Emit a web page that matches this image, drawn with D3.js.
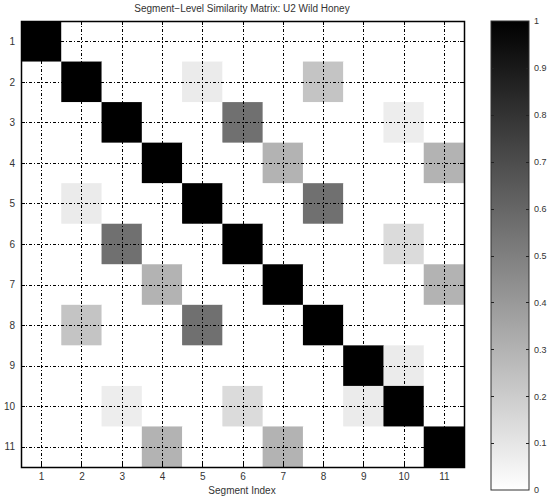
<!DOCTYPE html>
<html>
<head>
<meta charset="utf-8">
<script src="https://cdn.jsdelivr.net/npm/d3@7"></script>
<style>
  body { margin: 0; background: #fff; }
  text { font-family: "Liberation Sans", Arial, sans-serif; fill: #333; }
</style>
</head>
<body>
<div id="chart"></div>
<script>
var segments = [1, 2, 3, 4, 5, 6, 7, 8, 9, 10, 11];
// off-diagonal similarities (row, col, value); matrix is symmetric, diagonal = 1
var pairRows = [2, 2, 3, 3, 4, 4, 5, 6, 7, 9];
var pairCols = [5, 8, 6, 10, 7, 11, 8, 10, 11, 10];
var pairVals = [0.08, 0.23, 0.56, 0.07, 0.3, 0.3, 0.56, 0.14, 0.3, 0.08];
var colorTicks = [0, 0.1, 0.2, 0.3, 0.4, 0.5, 0.6, 0.7, 0.8, 0.9, 1];
var title = "Segment\u2212Level Similarity Matrix: U2 Wild Honey";
var xLabel = "Segment Index";

var width = 553, height = 497;
var plot = {left: 21, top: 21, right: 464, bottom: 467};
var cbar = {left: 491, right: 529, top: 21, bottom: 490};

// build matrix cells from arrays
var cells = [];
segments.forEach(function(r){
  segments.forEach(function(c){
    cells.push({r: r, c: c, v: r === c ? 1 : 0});
  });
});
function setCell(r, c, v){
  cells.forEach(function(d){
    if ((d.r === r && d.c === c) || (d.r === c && d.c === r)) d.v = v;
  });
}
pairRows.forEach(function(r, i){ setCell(r, pairCols[i], pairVals[i]); });

var x = d3.scaleBand().domain(segments).range([plot.left, plot.right]).padding(0);
var y = d3.scaleBand().domain(segments).range([plot.top, plot.bottom]).padding(0);
var color = d3.scaleLinear().domain([0, 1]).range(["#ffffff", "#000000"]);
var cy = d3.scaleLinear().domain([0, 1]).range([cbar.bottom, cbar.top]);

var svg = d3.select("#chart").append("svg")
  .attr("width", width)
  .attr("height", height);

svg.append("text")
  .attr("x", 242).attr("y", 12)
  .attr("text-anchor", "middle")
  .attr("font-size", 10)
  .text(title);

// cells
svg.append("g").selectAll("rect")
  .data(cells)
  .enter()
  .append("rect")
  .attr("x", function(d){ return x(d.c); })
  .attr("y", function(d){ return y(d.r); })
  .attr("width", x.bandwidth() + 0.5)
  .attr("height", y.bandwidth() + 0.5)
  .attr("fill", function(d){ return color(d.v); });

// grid
var grid = svg.append("g").attr("stroke", "#000").attr("stroke-width", 1)
  .attr("stroke-dasharray", "3,2,1,2");
grid.selectAll(".vg").data(segments).enter().append("line")
  .attr("x1", function(d){ return Math.round(x(d) + x.bandwidth() / 2) + 0.5; })
  .attr("x2", function(d){ return Math.round(x(d) + x.bandwidth() / 2) + 0.5; })
  .attr("y1", plot.top).attr("y2", plot.bottom);
grid.selectAll(".hg").data(segments).enter().append("line")
  .attr("y1", function(d){ return Math.round(y(d) + y.bandwidth() / 2) + 0.5; })
  .attr("y2", function(d){ return Math.round(y(d) + y.bandwidth() / 2) + 0.5; })
  .attr("x1", plot.left).attr("x2", plot.right);

// axes
var xAxis = d3.axisBottom(d3.scalePoint().domain(segments)
  .range([plot.left + x.bandwidth() / 2, plot.right - x.bandwidth() / 2]))
  .tickSize(0).tickPadding(6);
var gx = svg.append("g").attr("transform", "translate(0," + plot.bottom + ")").call(xAxis);
gx.select(".domain").remove();
gx.selectAll("text").attr("font-size", 10).attr("fill", "#333");

var yAxis = d3.axisLeft(d3.scalePoint().domain(segments)
  .range([plot.top + y.bandwidth() / 2, plot.bottom - y.bandwidth() / 2]))
  .tickSize(0).tickPadding(6);
var gy = svg.append("g").attr("transform", "translate(" + plot.left + ",0)").call(yAxis);
gy.select(".domain").remove();
gy.selectAll("text").attr("font-size", 10).attr("fill", "#333");

// inner ticks
var tk = svg.append("g").attr("stroke", "#000").attr("stroke-width", 1);
segments.forEach(function(d){
  var xc = Math.round(x(d) + x.bandwidth() / 2) + 0.5;
  var yc = Math.round(y(d) + y.bandwidth() / 2) + 0.5;
  tk.append("line").attr("x1", xc).attr("x2", xc).attr("y1", plot.top).attr("y2", plot.top + 4);
  tk.append("line").attr("x1", xc).attr("x2", xc).attr("y1", plot.bottom).attr("y2", plot.bottom - 4);
  tk.append("line").attr("y1", yc).attr("y2", yc).attr("x1", plot.left).attr("x2", plot.left + 4);
  tk.append("line").attr("y1", yc).attr("y2", yc).attr("x1", plot.right).attr("x2", plot.right - 4);
});

svg.append("rect")
  .attr("x", plot.left + 0.5).attr("y", plot.top + 0.5)
  .attr("width", plot.right - plot.left).attr("height", plot.bottom - plot.top)
  .attr("fill", "none").attr("stroke", "#000").attr("stroke-width", 1.5);

svg.append("text")
  .attr("x", 242).attr("y", 494)
  .attr("text-anchor", "middle")
  .attr("font-size", 10)
  .text(xLabel);

// colorbar
var defs = svg.append("defs");
var grad = defs.append("linearGradient").attr("id", "cgrad")
  .attr("x1", 0).attr("y1", 1).attr("x2", 0).attr("y2", 0);
grad.append("stop").attr("offset", 0).attr("stop-color", color(0));
grad.append("stop").attr("offset", 1).attr("stop-color", color(1));

svg.append("rect")
  .attr("x", cbar.left).attr("y", cbar.top)
  .attr("width", cbar.right - cbar.left).attr("height", cbar.bottom - cbar.top)
  .attr("fill", "url(#cgrad)")
  .attr("stroke", "#333").attr("stroke-width", 1);

var cAxis = d3.axisRight(cy).tickValues(colorTicks)
  .tickFormat(function(d){ return d === 0 || d === 1 ? d3.format("d")(d) : d; })
  .tickSize(0).tickPadding(5);
var gc = svg.append("g").attr("transform", "translate(" + cbar.right + ",0)").call(cAxis);
gc.select(".domain").remove();
gc.selectAll("text").attr("font-size", 9).attr("fill", "#333");

var ct = svg.append("g").attr("stroke", "#222").attr("stroke-width", 1);
colorTicks.slice(1, -1).forEach(function(t){
  var yy = Math.round(cy(t)) + 0.5;
  ct.append("line").attr("x1", cbar.left).attr("x2", cbar.left + 3).attr("y1", yy).attr("y2", yy);
  ct.append("line").attr("x1", cbar.right).attr("x2", cbar.right - 3).attr("y1", yy).attr("y2", yy);
});
</script>
</body>
</html>
